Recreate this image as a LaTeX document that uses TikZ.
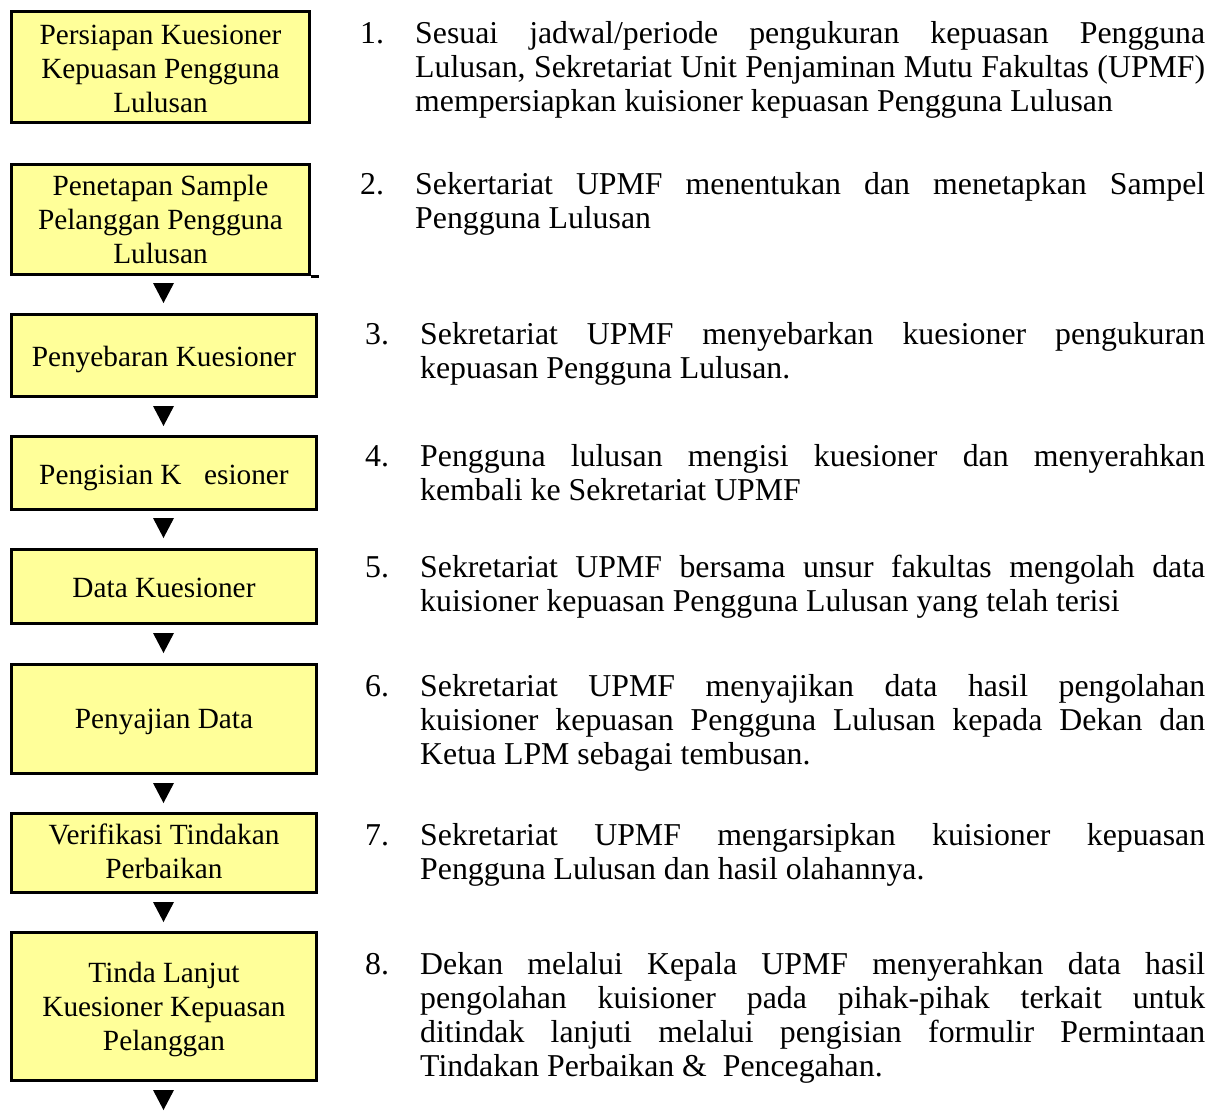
\documentclass[tikz,border=0pt]{standalone}
\usepackage{fontspec}
\setmainfont{Liberation Serif}
\definecolor{boxyellow}{HTML}{FFFF99}
\newcommand\myfs{\fontsize{29.3}{34}\selectfont}
\newcommand\rfs{\fontsize{31.8}{34}\selectfont}
\newcommand\jline[1]{\makebox[\linewidth][s]{#1}\\}
\newcommand\lastline[1]{#1}
\newcommand\boxlines[1]{\parbox[t]{300pt}{\myfs\centering #1}}
\begin{document}
\begin{tikzpicture}[x=1pt,y=-1pt,
  box/.style={draw=black, line width=3pt, fill=boxyellow, inner sep=0pt},
  btext/.style={anchor=base, inner sep=0pt, font=\myfs},
  num/.style={anchor=base west, inner sep=0pt, font=\rfs},
  para/.style={anchor=base west, inner sep=0pt, font=\rfs},
  tri/.pic={\fill[black] (-10.5,0) -- (10.5,0) -- (0,20) -- cycle;}]
\useasboundingbox (0,0) rectangle (1219,1113);
% boxes
\node[box, minimum width=298pt, minimum height=111pt] (b1) at (160.5,67) {};
\node[box, minimum width=298pt, minimum height=110pt] (b2) at (160.5,219.5) {};
\draw[line width=3pt] (b2.south east) -- ++(8,0);
\node[box, minimum width=305pt, minimum height=82pt] (b3) at (164,355.5) {};
\node[box, minimum width=305pt, minimum height=73pt] (b4) at (164,473) {};
\node[box, minimum width=305pt, minimum height=74pt] (b5) at (164,586.5) {};
\node[box, minimum width=305pt, minimum height=109pt] (b6) at (164,719) {};
\node[box, minimum width=305pt, minimum height=79pt] (b7) at (164,853) {};
\node[box, minimum width=305pt, minimum height=148pt] (b8) at (164,1006.5) {};
% box texts
\node[btext] (t1) at (b1.center |- 0,44.5) {\boxlines{Persiapan Kuesioner\\Kepuasan Pengguna\\Lulusan}};
\node[btext] (t2) at (b2.center |- 0,196) {\boxlines{Penetapan Sample\\Pelanggan Pengguna\\Lulusan}};
\node[btext] (t3) at (b3.center |- 0,366) {\boxlines{Penyebaran Kuesioner}};
\node[btext] (t4) at (b4.center |- 0,484) {\boxlines{Pengisian K\hspace{22.5pt}esioner}};
\node[btext] (t5) at (b5.center |- 0,597) {\boxlines{Data Kuesioner}};
\node[btext] (t6) at (b6.center |- 0,728) {\boxlines{Penyajian Data}};
\node[btext] (t7) at (b7.center |- 0,844) {\boxlines{Verifikasi Tindakan\\Perbaikan}};
\node[btext] (t8) at (b8.center |- 0,982) {\boxlines{Tinda Lanjut\\Kuesioner Kepuasan\\Pelanggan}};
% arrow glyphs
\pic at (163.5,283) {tri};
\pic at (163.5,406) {tri};
\pic at (163.5,518) {tri};
\pic at (163.5,633) {tri};
\pic at (163.5,783) {tri};
\pic at (163.5,902) {tri};
\pic at (163.5,1090) {tri};
% numbered descriptions
\node[num] (n1) at (360,44) {1.};
\node[para] (p1) at (415,44) {\parbox[t]{790pt}{\rfs
\jline{Sesuai jadwal/periode pengukuran kepuasan Pengguna}
\jline{Lulusan, Sekretariat Unit Penjaminan Mutu Fakultas (UPMF)}
\lastline{mempersiapkan kuisioner kepuasan Pengguna Lulusan}}};
\node[num] (n2) at (360,194) {2.};
\node[para] (p2) at (415,194) {\parbox[t]{790pt}{\rfs
\jline{Sekertariat UPMF menentukan dan menetapkan Sampel}
\lastline{Pengguna Lulusan}}};
\node[num] (n3) at (365,344) {3.};
\node[para] (p3) at (420,344) {\parbox[t]{785pt}{\rfs
\jline{Sekretariat UPMF menyebarkan kuesioner pengukuran}
\lastline{kepuasan Pengguna Lulusan.}}};
\node[num] (n4) at (365,466) {4.};
\node[para] (p4) at (420,466) {\parbox[t]{785pt}{\rfs
\jline{Pengguna lulusan mengisi kuesioner dan menyerahkan}
\lastline{kembali ke Sekretariat UPMF}}};
\node[num] (n5) at (365,577) {5.};
\node[para] (p5) at (420,577) {\parbox[t]{785pt}{\rfs
\jline{Sekretariat UPMF bersama unsur fakultas mengolah data}
\lastline{kuisioner kepuasan Pengguna Lulusan yang telah terisi}}};
\node[num] (n6) at (365,696) {6.};
\node[para] (p6) at (420,696) {\parbox[t]{785pt}{\rfs
\jline{Sekretariat UPMF menyajikan data hasil pengolahan}
\jline{kuisioner kepuasan Pengguna Lulusan kepada Dekan dan}
\lastline{Ketua LPM sebagai tembusan.}}};
\node[num] (n7) at (365,845) {7.};
\node[para] (p7) at (420,845) {\parbox[t]{785pt}{\rfs
\jline{Sekretariat UPMF mengarsipkan kuisioner kepuasan}
\lastline{Pengguna Lulusan dan hasil olahannya.}}};
\node[num] (n8) at (365,974) {8.};
\node[para] (p8) at (420,974) {\parbox[t]{785pt}{\rfs
\jline{Dekan melalui Kepala UPMF menyerahkan data hasil}
\jline{pengolahan kuisioner pada pihak-pihak terkait untuk}
\jline{ditindak lanjuti melalui pengisian formulir Permintaan}
\lastline{Tindakan Perbaikan \&\ \ Pencegahan.}}};
\end{tikzpicture}
\end{document}
